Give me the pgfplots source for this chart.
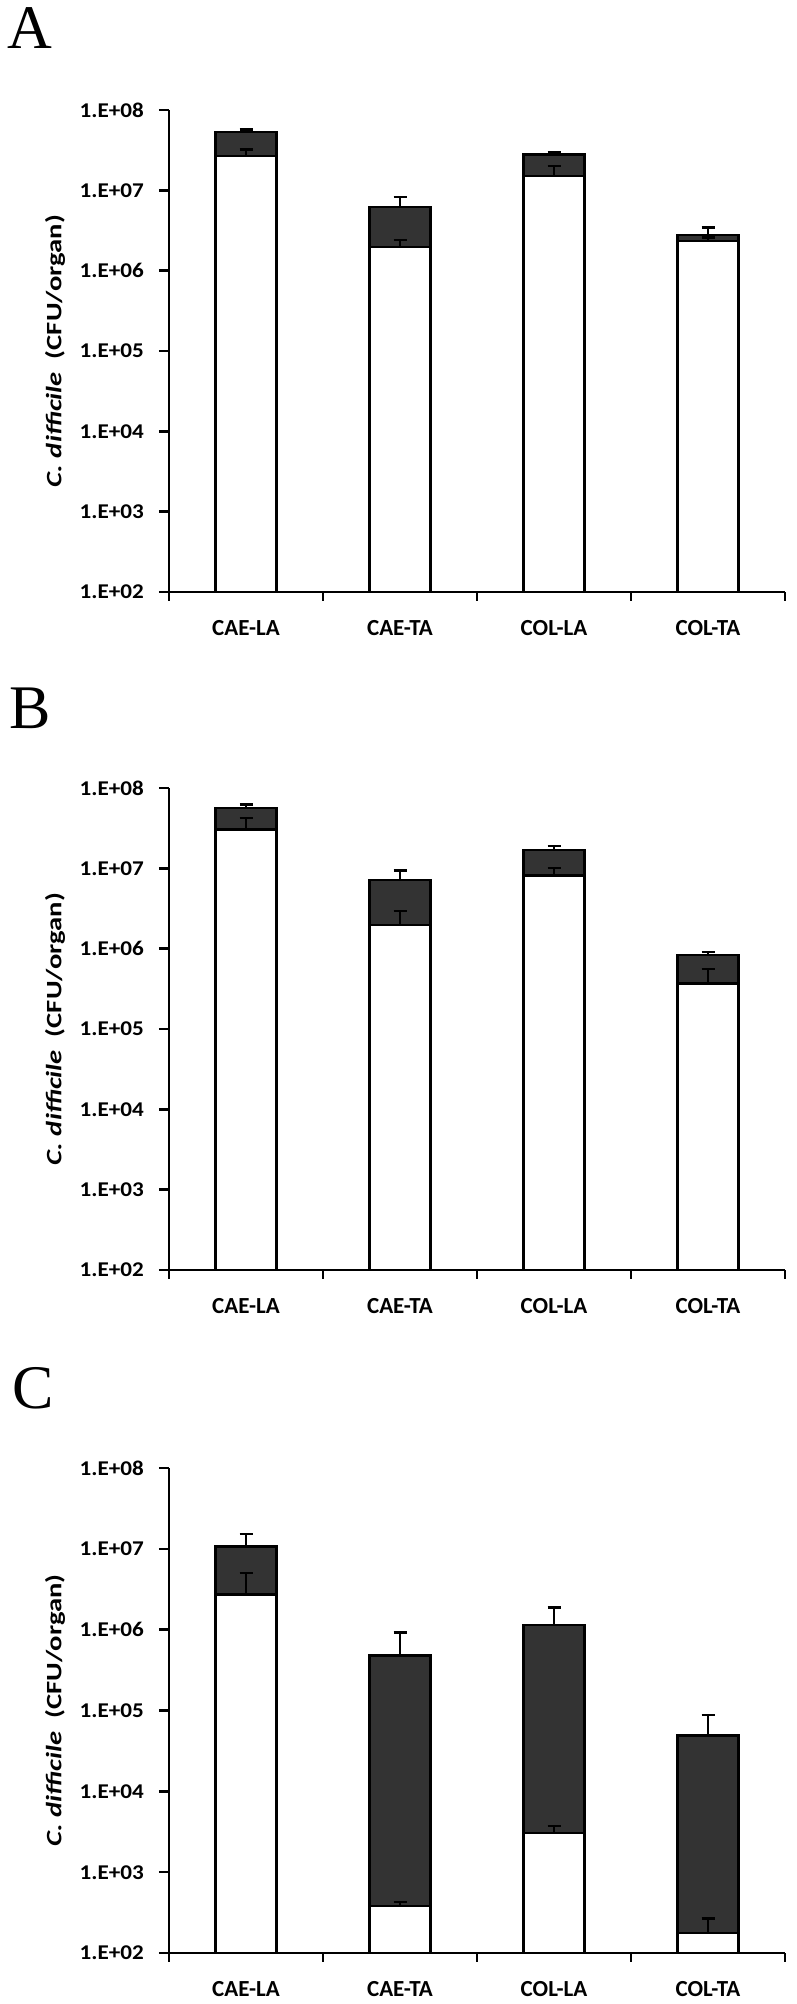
\documentclass[border=0pt]{standalone}
\usepackage{pgfplots}
\pgfplotsset{compat=1.18}
\usepackage{fontspec}
\setmainfont{Carlito}
\newfontfamily\tickfont[FakeStretch=1.1]{Carlito}
\newfontfamily\labelfont[FakeStretch=1.3]{Carlito}
\newfontfamily\letterfont{Liberation Serif}
\definecolor{dark}{HTML}{333333}
\pgfplotsset{
  every axis/.append style={
    scale only axis, width=616pt,
    xmin=-0.5, xmax=3.5,
    ymin=1e2, ymax=1e8,
    axis x line*=bottom, axis y line*=left,
    axis line style={line width=2.6pt},
    tick align=outside,
    xtick={0,1,2,3},
    xticklabels={CAE-LA,CAE-TA,COL-LA,COL-TA},
    minor xtick={-0.5,0.5,1.5,2.5,3.5},
    ytick={1e2,1e3,1e4,1e5,1e6,1e7,1e8},
    yticklabels={\mbox{1.E+02},\mbox{1.E+03},\mbox{1.E+04},\mbox{1.E+05},\mbox{1.E+06},\mbox{1.E+07},\mbox{1.E+08}},
    major tick length=10pt,
    minor tick length=9pt,
    yminorticks=false,
    ylabel={\textit{C. difficile}\ \ (CFU/organ)},
    clip=false,
  },
  every x tick label/.style={font=\bfseries\fontsize{23}{26}\selectfont, anchor=north, inner sep=0pt, yshift=-18pt},
  every y tick label/.style={font=\tickfont\bfseries\fontsize{21}{24}\selectfont, anchor=east, inner sep=0pt, xshift=-15pt},
  every axis y label/.style={font=\labelfont\bfseries\fontsize{22}{26}\selectfont, at={(axis description cs:-0.185,0.5)}, anchor=center, rotate=90},
  every major tick/.append style={line width=2.6pt, black},
  every minor tick/.append style={line width=2.6pt, black},
  every major x tick/.append style={draw=none},
}
\begin{document}
\begin{tikzpicture}
\useasboundingbox (0,0) rectangle (796pt,-2004pt);
\node[anchor=north west, inner sep=0pt, font=\letterfont\fontsize{62}{70}\selectfont] at (7pt,-7pt) {A};
\node[anchor=north west, inner sep=0pt, font=\letterfont\fontsize{62}{70}\selectfont] at (9pt,-688pt) {B};
\node[anchor=north west, inner sep=0pt, font=\letterfont\fontsize{62}{70}\selectfont] at (12pt,-1367pt) {C};

% Panel A
\begin{axis}[ymode=log, log origin=infty, height=482pt, at={(169pt,-592pt)}, anchor=south west]
\addplot[ybar, bar width=61pt, bar shift=0pt, fill=dark, draw=black, line width=2.4pt,
  error bars/.cd, y dir=plus, y explicit, error bar style={line width=2.4pt, black},
  error mark options={rotate=90, mark size=6.5pt, line width=2.4pt, black}]
  coordinates {(0,5.35e7) +- (0,0.35e7) (1,6.2e6) +- (0,2.1e6) (2,2.79e7) +- (0,0.16e7) (3,2.77e6) +- (0,0.69e6)};
\addplot[ybar, bar width=61pt, bar shift=0pt, fill=white, draw=black, line width=2.4pt,
  error bars/.cd, y dir=plus, y explicit, error bar style={line width=2.4pt, black},
  error mark options={rotate=90, mark size=6.5pt, line width=2.4pt, black}]
  coordinates {(0,2.68e7) +- (0,0.55e7) (1,1.98e6) +- (0,0.42e6) (2,1.5e7) +- (0,0.5e7) (3,2.33e6) +- (0,0.25e6)};
\end{axis}

% Panel B
\begin{axis}[ymode=log, log origin=infty, height=482pt, at={(169pt,-1270pt)}, anchor=south west]
\addplot[ybar, bar width=61pt, bar shift=0pt, fill=dark, draw=black, line width=2.4pt,
  error bars/.cd, y dir=plus, y explicit, error bar style={line width=2.4pt, black},
  error mark options={rotate=90, mark size=6.5pt, line width=2.4pt, black}]
  coordinates {(0,5.66e7) +- (0,0.58e7) (1,7.14e6) +- (0,2.3e6) (2,1.70e7) +- (0,0.2e7) (3,8.3e5) +- (0,0.76e5)};
\addplot[ybar, bar width=61pt, bar shift=0pt, fill=white, draw=black, line width=2.4pt,
  error bars/.cd, y dir=plus, y explicit, error bar style={line width=2.4pt, black},
  error mark options={rotate=90, mark size=6.5pt, line width=2.4pt, black}]
  coordinates {(0,3.04e7) +- (0,1.16e7) (1,1.97e6) +- (0,0.95e6) (2,8.18e6) +- (0,2.0e6) (3,3.7e5) +- (0,1.9e5)};
\end{axis}

% Panel C
\begin{axis}[ymode=log, log origin=infty, height=485pt, at={(169pt,-1953pt)}, anchor=south west]
\addplot[ybar, bar width=61pt, bar shift=0pt, fill=dark, draw=black, line width=2.4pt,
  error bars/.cd, y dir=plus, y explicit, error bar style={line width=2.4pt, black},
  error mark options={rotate=90, mark size=6.5pt, line width=2.4pt, black}]
  coordinates {(0,1.07e7) +- (0,0.46e7) (1,4.78e5) +- (0,4.4e5) (2,1.14e6) +- (0,0.74e6) (3,4.92e4) +- (0,3.9e4)};
\addplot[ybar, bar width=61pt, bar shift=0pt, fill=white, draw=black, line width=2.4pt,
  error bars/.cd, y dir=plus, y explicit, error bar style={line width=2.4pt, black},
  error mark options={rotate=90, mark size=6.5pt, line width=2.4pt, black}]
  coordinates {(0,2.71e6) +- (0,2.33e6) (1,380) +- (0,47) (2,3060) +- (0,680) (3,177) +- (0,90)};
\end{axis}
\end{tikzpicture}
\end{document}
